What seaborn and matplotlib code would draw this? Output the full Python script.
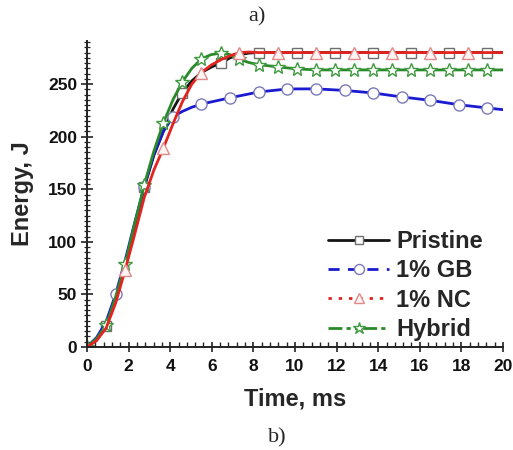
import numpy as np
import matplotlib
matplotlib.use("Agg")
import matplotlib.pyplot as plt
from matplotlib.lines import Line2D
from matplotlib.ticker import MultipleLocator
import seaborn as sns

# ---------------- data ----------------
t_main = [0, 0.46, 0.92, 1.38, 1.83, 2.29, 2.75, 3.21, 3.67, 4.13, 4.58, 5.04,
          5.5, 5.96, 6.42, 6.88, 7.33, 7.79, 8.25, 9.17, 10.08, 11.0, 11.92,
          12.83, 13.75, 14.67, 15.58, 16.5, 17.42, 18.33, 19.25, 20.0]

pristine_E = [0, 7, 20, 46, 78, 115, 152, 182, 205, 226, 242, 253,
              261, 266, 270, 275, 278, 279.5, 280, 280, 280, 280, 280,
              280, 280, 280, 280, 280, 280, 280, 280, 280]

nc_E = [0, 6, 18, 42, 73, 107, 142, 168, 189, 212, 233, 250,
        261, 268, 273, 277, 280, 280.5, 280, 280, 280, 280, 280,
        280, 280, 280, 280, 280, 280, 280, 280, 280]

hybrid_E = [0, 8, 20.5, 48, 79, 117, 154, 186, 213, 235, 252, 265,
            274, 278, 279.5, 278, 273.5, 270.5, 268.5, 266.4, 264.5, 263.5, 263.5,
            263.5, 263.5, 263.5, 263.5, 263.5, 263.5, 263.5, 263.5, 263.5]

t_gb = [0, 0.46, 0.92, 1.375, 1.83, 2.29, 2.75, 3.21, 3.67, 4.13, 4.58, 5.04,
        5.5, 6.88, 8.25, 9.63, 11.0, 12.38, 13.75, 15.13, 16.5, 17.88, 19.25, 20.0]
gb_E = [0, 9, 24, 50, 82, 118, 152, 183, 205, 219, 224, 228,
        231, 237, 242.5, 245.4, 245.5, 244, 241.6, 237.8, 234.6, 230.4, 227.3, 225.7]

# times at which the symbols are drawn
pristine_mk = [0.92, 2.75, 4.58, 6.42, 8.25, 10.08, 11.92, 13.75, 15.58, 17.42, 19.25]
nc_mk = [1.83, 3.67, 5.5, 7.33, 9.17, 11.0, 12.83, 14.67, 16.5, 18.33]
hybrid_mk = [0, 0.92, 1.83, 2.75, 3.67, 4.58, 5.5, 6.42, 7.33, 8.25, 9.17, 10.08,
             11.0, 11.92, 12.83, 13.75, 14.67, 15.58, 16.5, 17.42, 18.33, 19.25]
gb_mk = [1.375, 2.75, 4.13, 5.5, 6.88, 8.25, 9.63, 11.0, 12.38, 13.75, 15.13,
         16.5, 17.88, 19.25]

labels = ["Pristine", "1% GB", "1% NC", "Hybrid"]

# ---------------- styling ----------------
sns.set_theme(style="ticks")
plt.rcParams["font.family"] = ["Liberation Sans", "DejaVu Sans"]
plt.rcParams["font.weight"] = "bold"

W, H = 513, 450
fig = plt.figure(figsize=(W / 100, H / 100), dpi=100)
ax = fig.add_axes([87 / W, (H - 347) / H, 416 / W, 306 / H])

series = [
    dict(t=t_main, E=pristine_E, mk=pristine_mk, color="#151515", marker="s",
         mec="#6f6f6f", mfc="white", ms=7, ls="-", label=labels[0]),
    dict(t=t_gb, E=gb_E, mk=gb_mk, color="#1a1ad0", marker="o",
         mec="#7a7ab8", mfc="white", ms=8, ls=(0, (4, 3)), label=labels[1]),
    dict(t=t_main, E=hybrid_E, mk=hybrid_mk, color="#2a8a2a", marker="*",
         mec="#3f9a3f", mfc="white", ms=10, ls=(0, (5, 1.5, 1.5, 1.5, 1.5, 1.5)),
         label=labels[3]),
    dict(t=t_main, E=nc_E, mk=nc_mk, color="#e3231f", marker="^",
         mec="#e08a8a", mfc="#fff4f4", ms=8.5, ls=(0, (1.2, 2.5)), label=labels[2]),
]

for s in series:
    mask = np.isin(np.round(s["t"], 3), np.round(s["mk"], 3))
    sns.lineplot(x=s["t"], y=s["E"], ax=ax, color=s["color"], lw=2.0,
                 marker=s["marker"], markevery=list(np.where(mask)[0]),
                 markersize=s["ms"], markerfacecolor=s["mfc"],
                 markeredgecolor=s["mec"], markeredgewidth=1.0,
                 legend=False, sort=False, estimator=None)

ax.set_xlim(0, 20)
ax.set_ylim(0, 291)
ax.xaxis.set_major_locator(MultipleLocator(2))
ax.xaxis.set_minor_locator(MultipleLocator(0.4))
ax.yaxis.set_major_locator(MultipleLocator(50))
ax.yaxis.set_minor_locator(MultipleLocator(5))
sns.despine(ax=ax)
for sp in ("left", "bottom"):
    ax.spines[sp].set_linewidth(1.4)
    ax.spines[sp].set_color("#222222")

ax.tick_params(axis="x", which="major", direction="inout", length=7, width=1.2,
               labelsize=12.5, pad=5, colors="#222222")
ax.tick_params(axis="x", which="minor", direction="in", length=3.5, width=1.0)
ax.tick_params(axis="y", which="major", direction="inout", length=8, width=1.2,
               labelsize=12.5, pad=3, colors="#222222")
ax.tick_params(axis="y", which="minor", direction="inout", length=4, width=0.9)
for lab in ax.get_xticklabels() + ax.get_yticklabels():
    lab.set_fontweight("bold")
    lab.set_color("#111111")

ax.set_xlabel("Time, ms", fontsize=17, fontweight="bold", labelpad=10)
ax.set_ylabel("Energy, J", fontsize=17, fontweight="bold", labelpad=10)

# legend with the dashed styles of the original
handles = []
for name in labels:
    s = next(d for d in series if d["label"] == name)
    handles.append(Line2D([], [], color=s["color"], lw=2.0, ls=s["ls"],
                          marker=s["marker"], markersize=s["ms"] * 0.9,
                          markerfacecolor=s["mfc"], markeredgecolor=s["mec"],
                          markeredgewidth=1.0))
fig.legend(handles, labels, loc="upper left",
           bbox_to_anchor=(328 / W, 1 - 230 / H), frameon=False,
           prop=dict(family="Liberation Sans", weight="bold", size=17),
           handlelength=2.6, handletextpad=0.3, labelspacing=0.27,
           borderpad=0, borderaxespad=0)

fig.text(257 / W, 1 - 17 / H, "a)", ha="center", va="center",
         fontsize=16, family="Liberation Serif", fontweight="normal")
fig.text(277 / W, 1 - 438 / H, "b)", ha="center", va="center",
         fontsize=16, family="Liberation Serif", fontweight="normal")

fig.savefig("out.png", dpi=100)
